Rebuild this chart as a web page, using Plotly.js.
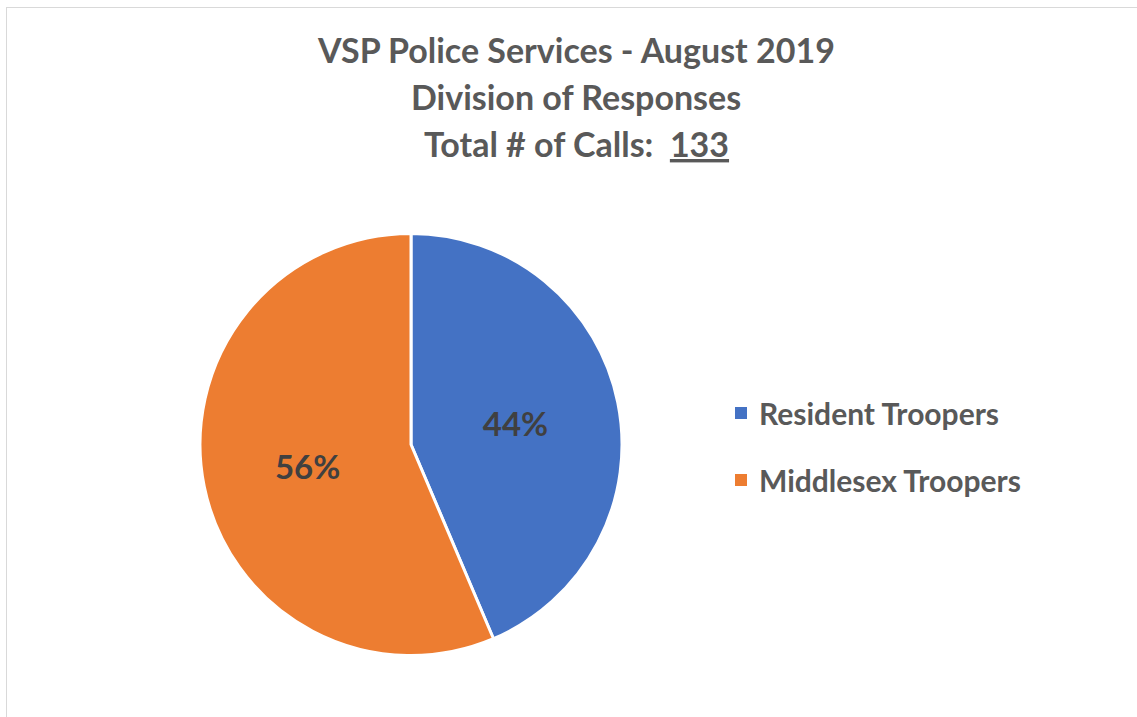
<!DOCTYPE html>
<html>
<head>
<meta charset="utf-8">
<script src="https://cdn.plot.ly/plotly-3.0.1.min.js"></script>
<style>
html,body{margin:0;padding:0;background:#fff;}
#wrap{position:relative;width:1137px;height:717px;overflow:hidden;}
#frame{position:absolute;left:6px;top:7px;width:1200px;height:800px;border-left:1.5px solid #d9d9d9;border-top:1.5px solid #d9d9d9;box-sizing:border-box;pointer-events:none;}
#chart{position:absolute;left:0;top:0;width:1137px;height:717px;}
</style>
</head>
<body>
<div id="wrap"><div id="chart"></div><div id="frame"></div></div>
<script>
const titleLines = ["VSP Police Services - August 2019", "Division of Responses", "Total # of Calls:  <u>133</u>"];
const categories = ["Resident Troopers", "Middlesex Troopers"];
const callCounts = [58, 75];
const sliceColors = ["#4472C4", "#ED7D31"];

const W = 1137, H = 717;
const FONT = "Lato, 'Noto Sans', sans-serif";

const annotations = [];
const titleY = [50, 97, 143];
titleLines.forEach((t, i) => {
  annotations.push({
    text: "<b>" + t + "</b>", xref: "paper", yref: "paper",
    x: 576 / W, y: 1 - titleY[i] / H, xanchor: "center", yanchor: "middle",
    showarrow: false, font: {family: FONT, size: 34, color: "#595959"}
  });
});

const shapes = [];
const legendY = [413, 480];
categories.forEach((c, i) => {
  annotations.push({
    text: "<b>" + c + "</b>", xref: "paper", yref: "paper",
    x: 757 / W, y: 1 - legendY[i] / H, xanchor: "left", yanchor: "middle",
    showarrow: false, font: {family: FONT, size: 30, color: "#595959"}
  });
  shapes.push({
    type: "rect", xref: "paper", yref: "paper",
    x0: 735 / W, x1: 747 / W, y0: 1 - (legendY[i] + 6) / H, y1: 1 - (legendY[i] - 6) / H,
    fillcolor: sliceColors[i], line: {width: 0}
  });
});

const cx = 411, cy = 444.5, r = 211;
const data = [{
  type: "pie",
  labels: categories,
  values: callCounts,
  sort: false,
  direction: "clockwise",
  rotation: 0,
  marker: {colors: sliceColors, line: {color: "#ffffff", width: 3}},
  textinfo: "percent",
  texttemplate: "<b>%{percent:.0%}</b>",
  textposition: "inside",
  insidetextorientation: "horizontal",
  textfont: {family: FONT, size: 33, color: "#404040"},
  hoverinfo: "label+value+percent",
  domain: {x: [(cx - r) / W, (cx + r) / W], y: [(H - cy - r) / H, (H - cy + r) / H]},
  showlegend: false
}];

const layout = {
  width: W, height: H,
  margin: {l: 0, r: 0, t: 0, b: 0},
  paper_bgcolor: "#ffffff",
  showlegend: false,
  annotations: annotations,
  shapes: shapes
};

Plotly.newPlot("chart", data, layout, {displayModeBar: false, staticPlot: true});
</script>
</body>
</html>
